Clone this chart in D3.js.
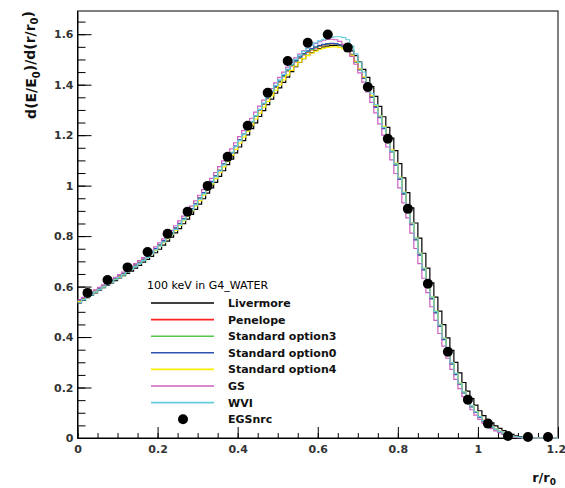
<!DOCTYPE html>
<html>
<head>
<meta charset="utf-8">
<script src="https://d3js.org/d3.v7.min.js"></script>
<style>
  body { margin: 0; background: #fff; }
  text { font-family: "DejaVu Sans", sans-serif; }
</style>
</head>
<body>
<div id="chart"></div>
<script>
// histogram binning (x = r/r0)
var xMin = 0, xMax = 1.2, nBins = 120;

// energy deposition per bin, one array per physics list
var livermore = [
  0.535,0.545,0.556,0.566,0.575,0.586,0.596,0.606,0.615,0.624,
  0.634,0.643,0.652,0.661,0.673,0.684,0.697,0.708,0.720,0.734,
  0.748,0.764,0.780,0.796,0.813,0.830,0.849,0.867,0.886,0.906,
  0.927,0.948,0.970,0.991,1.013,1.037,1.059,1.083,1.105,1.130,
  1.153,1.178,1.201,1.226,1.249,1.274,1.297,1.321,1.343,1.366,
  1.387,1.409,1.430,1.452,1.471,1.488,1.503,1.516,1.527,1.536,
  1.543,1.549,1.553,1.555,1.556,1.555,1.551,1.545,1.534,1.515,
  1.490,1.461,1.429,1.392,1.354,1.314,1.273,1.231,1.188,1.139,
  1.087,1.031,0.972,0.912,0.852,0.792,0.732,0.673,0.615,0.558,
  0.503,0.449,0.397,0.347,0.300,0.258,0.220,0.186,0.156,0.130,
  0.108,0.089,0.073,0.060,0.048,0.038,0.029,0.021,0.014,0.009,
  0.005,0.003,0.001,0,0,0,0,0,0,0];

var penelope = [
  0.542,0.552,0.562,0.572,0.582,0.592,0.602,0.612,0.622,0.631,
  0.641,0.651,0.662,0.673,0.684,0.696,0.708,0.721,0.735,0.750,
  0.765,0.781,0.797,0.814,0.832,0.850,0.869,0.888,0.908,0.929,
  0.950,0.971,0.993,1.015,1.038,1.061,1.084,1.107,1.131,1.155,
  1.179,1.203,1.227,1.251,1.275,1.299,1.322,1.345,1.367,1.389,
  1.410,1.432,1.455,1.474,1.490,1.505,1.518,1.529,1.538,1.546,
  1.552,1.557,1.560,1.562,1.562,1.559,1.553,1.543,1.520,1.492,
  1.462,1.428,1.391,1.353,1.313,1.272,1.230,1.186,1.137,1.084,
  1.028,0.969,0.908,0.848,0.788,0.728,0.669,0.611,0.554,0.499,
  0.445,0.393,0.342,0.296,0.254,0.216,0.182,0.152,0.126,0.104,
  0.085,0.070,0.057,0.045,0.035,0.026,0.018,0.012,0.007,0.004,
  0.002,0.001,0,0,0,0,0,0,0,0];

var standard3 = [
  0.544,0.553,0.561,0.573,0.583,0.591,0.603,0.613,0.621,0.632,
  0.642,0.652,0.661,0.674,0.685,0.697,0.707,0.722,0.736,0.749,
  0.766,0.782,0.796,0.815,0.833,0.849,0.870,0.889,0.907,0.930,
  0.951,0.970,0.994,1.016,1.037,1.062,1.085,1.106,1.132,1.156,
  1.180,1.202,1.228,1.252,1.274,1.300,1.323,1.346,1.368,1.390,
  1.412,1.433,1.456,1.476,1.492,1.507,1.520,1.531,1.540,1.548,
  1.554,1.558,1.561,1.563,1.562,1.558,1.552,1.541,1.518,1.490,
  1.460,1.426,1.389,1.351,1.311,1.270,1.228,1.184,1.135,1.082,
  1.026,0.967,0.906,0.846,0.786,0.726,0.667,0.609,0.552,0.497,
  0.443,0.391,0.340,0.294,0.252,0.214,0.180,0.150,0.124,0.102,
  0.083,0.068,0.055,0.044,0.034,0.025,0.017,0.011,0.006,0.003,
  0.002,0.001,0,0,0,0,0,0,0,0];

var standard0 = [
  0.543,0.551,0.563,0.571,0.581,0.593,0.601,0.611,0.623,0.630,
  0.642,0.650,0.663,0.672,0.685,0.695,0.709,0.720,0.736,0.751,
  0.764,0.782,0.798,0.813,0.833,0.851,0.868,0.889,0.909,0.928,
  0.952,0.972,0.992,1.017,1.039,1.060,1.086,1.108,1.130,1.157,
  1.181,1.204,1.229,1.253,1.277,1.301,1.325,1.348,1.371,1.393,
  1.415,1.437,1.459,1.479,1.495,1.510,1.523,1.534,1.543,1.550,
  1.556,1.560,1.563,1.564,1.563,1.559,1.551,1.540,1.517,1.489,
  1.459,1.425,1.388,1.350,1.310,1.269,1.226,1.183,1.134,1.081,
  1.025,0.966,0.905,0.845,0.785,0.725,0.666,0.608,0.551,0.496,
  0.442,0.390,0.339,0.293,0.251,0.213,0.179,0.149,0.123,0.101,
  0.082,0.067,0.054,0.043,0.033,0.024,0.017,0.011,0.006,0.003,
  0.001,0.001,0,0,0,0,0,0,0,0];

var standard4 = [
  0.540,0.549,0.559,0.569,0.579,0.589,0.599,0.609,0.618,0.628,
  0.638,0.647,0.658,0.669,0.680,0.692,0.704,0.716,0.730,0.744,
  0.759,0.774,0.790,0.807,0.824,0.842,0.861,0.880,0.900,0.920,
  0.941,0.962,0.984,1.006,1.028,1.051,1.074,1.097,1.120,1.144,
  1.168,1.192,1.216,1.240,1.264,1.287,1.311,1.334,1.356,1.378,
  1.399,1.419,1.439,1.457,1.474,1.489,1.503,1.515,1.525,1.533,
  1.540,1.545,1.548,1.550,1.550,1.548,1.543,1.534,1.516,1.491,
  1.463,1.431,1.395,1.357,1.318,1.277,1.235,1.191,1.142,1.089,
  1.033,0.974,0.913,0.853,0.793,0.733,0.674,0.616,0.559,0.503,
  0.449,0.396,0.345,0.299,0.256,0.218,0.184,0.154,0.128,0.105,
  0.086,0.070,0.057,0.045,0.035,0.026,0.018,0.012,0.007,0.004,
  0.002,0.001,0,0,0,0,0,0,0,0];

var gs = [
  0.547,0.557,0.567,0.577,0.587,0.597,0.607,0.617,0.627,0.637,
  0.647,0.657,0.668,0.679,0.691,0.703,0.715,0.728,0.742,0.757,
  0.773,0.789,0.806,0.823,0.841,0.860,0.879,0.899,0.919,0.940,
  0.962,0.984,1.006,1.029,1.052,1.075,1.098,1.122,1.146,1.170,
  1.194,1.218,1.243,1.267,1.291,1.315,1.339,1.362,1.385,1.407,
  1.429,1.450,1.470,1.489,1.506,1.521,1.534,1.546,1.556,1.564,
  1.571,1.576,1.579,1.580,1.578,1.572,1.560,1.540,1.512,1.481,
  1.447,1.410,1.371,1.330,1.288,1.245,1.200,1.153,1.102,1.048,
  0.991,0.932,0.872,0.812,0.751,0.691,0.633,0.576,0.520,0.466,
  0.414,0.364,0.316,0.272,0.232,0.196,0.164,0.136,0.112,0.091,
  0.074,0.059,0.047,0.037,0.028,0.020,0.014,0.009,0.005,0.003,
  0.001,0,0,0,0,0,0,0,0,0];

var wvi = [
  0.536,0.547,0.557,0.567,0.578,0.588,0.598,0.608,0.617,0.627,
  0.636,0.646,0.657,0.668,0.679,0.691,0.703,0.716,0.730,0.745,
  0.760,0.776,0.792,0.809,0.827,0.845,0.864,0.884,0.904,0.924,
  0.946,0.967,0.989,1.012,1.035,1.058,1.082,1.105,1.129,1.154,
  1.178,1.203,1.228,1.253,1.278,1.302,1.327,1.351,1.374,1.397,
  1.419,1.441,1.462,1.482,1.500,1.517,1.532,1.545,1.556,1.566,
  1.574,1.580,1.585,1.588,1.590,1.590,1.587,1.578,1.553,1.522,
  1.488,1.450,1.409,1.366,1.321,1.276,1.231,1.185,1.137,1.086,
  1.031,0.973,0.913,0.853,0.792,0.732,0.673,0.615,0.558,0.502,
  0.448,0.396,0.346,0.299,0.256,0.217,0.183,0.153,0.127,0.104,
  0.085,0.069,0.056,0.045,0.035,0.026,0.019,0.013,0.008,0.005,
  0.003,0.001,0,0,0,0,0,0,0,0];

// EGSnrc reference points
var egsX = [0.025,0.075,0.125,0.175,0.225,0.275,0.325,0.375,0.425,0.475,0.525,0.575,
            0.625,0.675,0.725,0.775,0.825,0.875,0.925,0.975,1.025,1.075,1.125,1.175];
var egsY = [0.575,0.626,0.676,0.737,0.809,0.897,0.999,1.114,1.237,1.368,1.494,1.566,
            1.599,1.547,1.391,1.186,0.908,0.611,0.342,0.152,0.057,0.008,0.004,0.004];

var seriesNames = ["Livermore","Penelope","Standard option3","Standard option0","Standard option4","GS","WVI"];
var seriesColors = ["#000000","#ff2222","#55c84a","#2f52b0","#ffee00","#cc5fbf","#66ccdd"];
var seriesValues = [livermore, penelope, standard3, standard0, standard4, gs, wvi];

var legendTitle = "100 keV in G4_WATER";
var xTicks = [0,0.2,0.4,0.6,0.8,1,1.2];
var yTicks = [0,0.2,0.4,0.6,0.8,1,1.2,1.4,1.6];

// define margin, height, width
var margin = {top: 11, right: 7, bottom: 50, left: 77.5},
    width = 565 - margin.left - margin.right,
    height = 488 - margin.top - margin.bottom;

var x = d3.scaleLinear().domain([xMin, xMax]).range([0, width]);
var y = d3.scaleLinear().domain([0, 1.692]).range([height, 0]);

var svg = d3.select("#chart").append("svg")
    .attr("width", 565)
    .attr("height", 488)
    .style("background", "#fff")
  .append("g")
    .attr("transform", "translate(" + margin.left + "," + margin.top + ")");

// frame
svg.append("rect")
  .attr("width", width)
  .attr("height", height)
  .attr("fill", "none")
  .attr("stroke", "#000")
  .attr("stroke-width", 1);

var fmt = function(d) { return String(+d.toFixed(2)); };

// minor ticks first, then major axes on top
var minorX = d3.range(0, 24).map(function(i) { return i * 0.05; });
var minorY = d3.range(0, 34).map(function(i) { return i * 0.05; });

svg.append("g")
  .attr("class", "xminor")
  .attr("transform", "translate(0," + height + ")")
  .call(d3.axisBottom(x).tickValues(minorX).tickSize(-5).tickFormat(""))
  .call(function(g) { g.select(".domain").remove(); });

svg.append("g")
  .attr("class", "yminor")
  .call(d3.axisLeft(y).tickValues(minorY).tickSize(-8).tickFormat(""))
  .call(function(g) { g.select(".domain").remove(); });

svg.append("g")
  .attr("class", "xaxis")
  .attr("transform", "translate(0," + height + ")")
  .call(d3.axisBottom(x).tickValues(xTicks).tickSizeInner(-11).tickSizeOuter(0).tickPadding(7).tickFormat(fmt));

svg.append("g")
  .attr("class", "yaxis")
  .call(d3.axisLeft(y).tickValues(yTicks).tickSizeInner(-14).tickSizeOuter(0).tickPadding(4).tickFormat(fmt));

svg.selectAll(".xaxis text, .yaxis text")
  .style("font-size", "11px")
  .style("font-weight", "bold")
  .style("fill", "#333");
svg.selectAll(".tick line").attr("stroke", "#000");

// nudge the last x label so it stays inside the page
svg.selectAll(".xaxis .tick text")
  .filter(function(d) { return d === 1.2; })
  .attr("dx", "-0.2em");

// histograms as step lines
var edges = d3.range(0, nBins + 1).map(function(i) { return xMin + i * (xMax - xMin) / nBins; });
var stepLine = d3.line()
  .curve(d3.curveStepAfter)
  .x(function(d) { return x(d[0]); })
  .y(function(d) { return y(d[1]); });

seriesValues.forEach(function(vals, k) {
  var pts = vals.map(function(v, i) { return [edges[i], v]; });
  pts.push([edges[nBins], vals[nBins - 1]]);
  svg.append("path")
    .attr("class", "hist")
    .attr("d", stepLine(pts))
    .attr("fill", "none")
    .attr("stroke", seriesColors[k])
    .attr("stroke-width", 1.2);
});

// EGSnrc markers
svg.selectAll(".egs")
  .data(egsX)
  .enter().append("circle")
  .attr("class", "egs")
  .attr("cx", function(d) { return x(d); })
  .attr("cy", function(d, i) { return y(egsY[i]); })
  .attr("r", 5)
  .attr("fill", "#000");

// axis titles
var ytitle = svg.append("text")
  .attr("transform", "translate(" + (36 - margin.left) + ",0) rotate(-90)")
  .attr("text-anchor", "end")
  .style("font-size", "14px")
  .style("font-weight", "bold")
  .style("fill", "#111");
ytitle.append("tspan").text("d(E/E");
ytitle.append("tspan").attr("dy", "0.35em").style("font-size", "10px").text("0");
ytitle.append("tspan").attr("dy", "-0.35em").text(")/d(r/r");
ytitle.append("tspan").attr("dy", "0.35em").style("font-size", "10px").text("0");
ytitle.append("tspan").attr("dy", "-0.35em").text(")");

var xtitle = svg.append("text")
  .attr("x", 556 - margin.left)
  .attr("y", 482 - margin.top)
  .attr("text-anchor", "end")
  .style("font-size", "13px")
  .style("font-weight", "bold")
  .style("fill", "#111");
xtitle.append("tspan").text("r/r");
xtitle.append("tspan").attr("dy", "0.35em").style("font-size", "9px").text("0");

// legend
var legend = svg.append("g")
  .attr("transform", "translate(" + (147 - margin.left) + "," + (289 - margin.top) + ")");

legend.append("text")
  .style("font-size", "11px")
  .style("fill", "#000")
  .text(legendTitle);

var rowH = 16.6;
var rows = legend.selectAll(".row")
  .data(seriesNames.concat(["EGSnrc"]))
  .enter().append("g")
  .attr("class", "row")
  .attr("transform", function(d, i) { return "translate(0," + (14 + i * rowH) + ")"; });

rows.filter(function(d, i) { return i < seriesNames.length; })
  .append("line")
  .attr("x1", 4).attr("x2", 67)
  .attr("stroke", function(d, i) { return seriesColors[i]; })
  .attr("stroke-width", 1.6);

rows.filter(function(d) { return d === "EGSnrc"; })
  .append("circle")
  .attr("cx", 36)
  .attr("r", 5)
  .attr("fill", "#000");

rows.append("text")
  .attr("x", 81)
  .attr("dy", "0.36em")
  .style("font-size", "11px")
  .style("font-weight", "bold")
  .style("fill", "#111")
  .text(function(d) { return d; });
</script>
</body>
</html>
